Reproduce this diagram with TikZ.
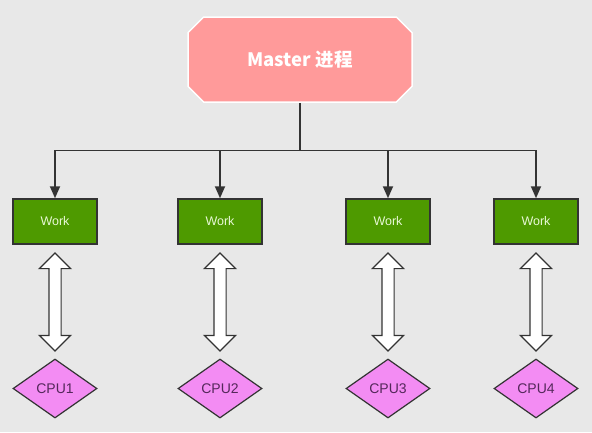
\documentclass[tikz,border=0pt]{standalone}
\usepackage{fontspec}
\setmainfont{Liberation Sans}
\newfontfamily\cjk{Noto Sans CJK SC}
\usetikzlibrary{arrows.meta,shapes.misc,shapes.geometric,shapes.arrows}
\definecolor{bggray}{RGB}{232,232,232}
\definecolor{masterpink}{RGB}{255,154,154}
\definecolor{workgreen}{RGB}{78,154,0}
\definecolor{worktext}{RGB}{232,248,214}
\definecolor{cpuviolet}{RGB}{243,140,243}
\definecolor{cputext}{RGB}{84,40,90}
\definecolor{linegray}{RGB}{51,51,51}
\tikzset{
  master/.style={chamfered rectangle, chamfered rectangle xsep=19pt, minimum width=224pt, minimum height=85pt, fill=masterpink, draw=white, line width=1.5pt, text=white, font=\cjk\bfseries\fontsize{18.5}{22}\selectfont},
  work/.style={rectangle, minimum width=84pt, minimum height=45pt, fill=workgreen, draw=linegray, line width=1.5pt, text=worktext, font=\fontsize{12.5}{15}\selectfont},
  cpu/.style={diamond, aspect=1.424, minimum width=84pt, minimum height=59pt, inner sep=0pt, fill=cpuviolet, draw=linegray, line width=1.2pt, text=cputext, font=\fontsize{14}{16}\selectfont},
  bus/.style={double arrow, rotate=90, inner sep=0pt, inner ysep=5.5pt, minimum height=98pt, double arrow head extend=9.5pt, double arrow tip angle=90, fill=white, draw=linegray, line width=1.2pt},
  link/.style={draw=linegray, line width=1.8pt},
  flow/.style={link, -{Triangle[length=12pt,width=10pt]}}
}
\begin{document}
\begin{tikzpicture}[x=1pt, y=-1pt]
\fill [bggray] (0,0) rectangle (592,432);
\useasboundingbox (0,0) rectangle (592,432);
\node [master] (master) at (300,59.5) {Master 进程};
\coordinate (split) at (300,150.5);
\node [work] (work1) at (55,221.5) {Work};
\node [work] (work2) at (220,221.5) {Work};
\node [work] (work3) at (388,221.5) {Work};
\node [work] (work4) at (536,221.5) {Work};
\node [cpu] (cpu1) at (55,388.5) {CPU1};
\node [cpu] (cpu2) at (220,388.5) {CPU2};
\node [cpu] (cpu3) at (388,388.5) {CPU3};
\node [cpu] (cpu4) at (536,388.5) {CPU4};
\node [bus] (bus1) at (55,302) {};
\node [bus] (bus2) at (220,302) {};
\node [bus] (bus3) at (388,302) {};
\node [bus] (bus4) at (536,302) {};
\draw [link] (master.south) -- (split);
\draw [flow] (split) -| (work1.north);
\draw [flow] (split) -| (work2.north);
\draw [flow] (split) -| (work3.north);
\draw [flow] (split) -| (work4.north);
\end{tikzpicture}
\end{document}
